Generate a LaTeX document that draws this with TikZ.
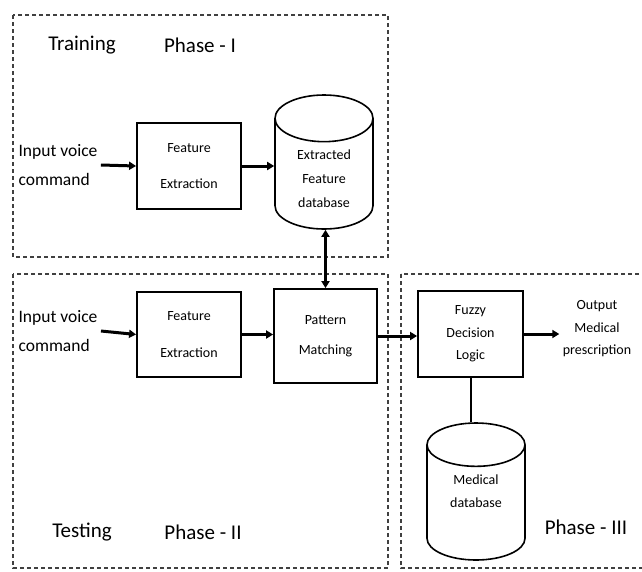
\documentclass[tikz,border=0pt]{standalone}
\usepackage{fontspec}
\setmainfont{Carlito}
\usetikzlibrary{arrows.meta, shapes.geometric}

\begin{document}
\begin{tikzpicture}[x=1pt, y=-1pt,
  phase/.style={draw=black!75, dash pattern=on 4pt off 3pt, line width=1.3pt},
  block/.style={draw, line width=1.8pt, align=center, font=\fontsize{14}{30}\selectfont},
  db/.style={cylinder, shape border rotate=90, draw, line width=1.6pt, anchor=shape center,
    minimum width=98pt},
  dbtext/.style={align=center, font=\fontsize{14}{23}\selectfont},
  flow/.style={line width=3pt, -{Triangle[length=7pt, width=8pt]}},
  txt/.style={align=left, anchor=west, font=\fontsize{17.5}{29}\selectfont},
  title/.style={font=\fontsize{21}{24}\selectfont}]

\useasboundingbox (0,0) rectangle (642,571);

% Phase boxes
\draw[phase] (13,15) rectangle (388,257);
\draw[phase] (13,274) rectangle (388,568);
\draw[phase] (401,274) rectangle (660,568);

% Titles
\node[title] (train) at (82,45) {Training};
\node[title] (ph1) at (200,45) {Phase - I};
\node[title] (test) at (82,532) {Testing};
\node[title] (ph2) at (203,532) {Phase - II};
\node[title] (ph3) at (586,527) {Phase - III};

% Training
\node[txt] (in1) at (15,165) {Input voice\\command};
\node[block, minimum width=104pt, minimum height=86pt, font=\fontsize{14}{36}\selectfont]
  (fe1) at (189,166) {Feature\\Extraction};
\node[db, minimum height=134pt, aspect=7] (db1) at (324,162) {};
\node[dbtext, font=\fontsize{14}{24}\selectfont] (db1t) at (324,179) {Extracted\\Feature\\database};

% Testing
\node[txt] (in2) at (15,331) {Input voice\\command};
\node[block, minimum width=104pt, minimum height=85pt, font=\fontsize{14}{37}\selectfont]
  (fe2) at (189,334.5) {Feature\\Extraction};
\node[block, minimum width=103pt, minimum height=94pt] (pm) at (325.5,336) {Pattern\\Matching};

% Phase III
\node[block, minimum width=105pt, minimum height=86pt, font=\fontsize{14}{22.5}\selectfont]
  (fl) at (470.5,334) {Fuzzy\\Decision\\Logic};
\node[align=center, font=\fontsize{14}{22.5}\selectfont] (out) at (597,329) {Output\\Medical\\prescription};
\node[db, minimum height=137pt, aspect=6.5] (db2) at (476,491.5) {};
\node[dbtext] (db2t) at (476,491.5) {Medical\\database};

% Connectors
\draw[flow] (in1.east) -- (fe1.west);
\draw[flow] (fe1.east) -- (fe1.east -| db1.west);
\draw[flow] (in2.east) -- (fe2.west);
\draw[flow] (fe2.east) -- (fe2.east -| pm.west);
\draw[flow, {Triangle[length=7pt, width=8pt]}-{Triangle[length=7pt, width=8pt]}]
  (pm.north) -- (pm.north |- db1.south);
\draw[flow] (pm.east) -- (pm.east -| fl.west);
\draw[flow] (fl.east) -- (fl.east -| out.west);
\draw[line width=2pt] (fl.south) -- (fl.south |- db2.north);

\end{tikzpicture}
\end{document}
